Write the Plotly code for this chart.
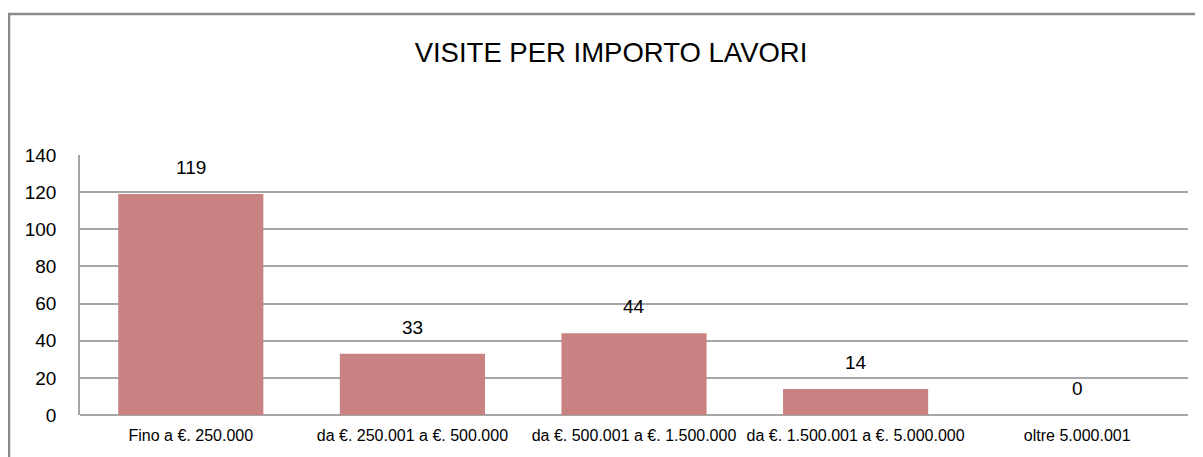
import plotly.graph_objects as go

categories = [
    "Fino a €. 250.000",
    "da €. 250.001 a €. 500.000",
    "da €. 500.001 a €. 1.500.000",
    "da €. 1.500.001 a €. 5.000.000",
    "oltre 5.000.001",
]
visite = [119, 33, 44, 14, 0]
y_ticks = [0, 20, 40, 60, 80, 100, 120, 140]

W, H = 1203, 457
OFF = 8  # page body margin offset
ML, MR, MT, MB = 80 - OFF, 15 + OFF, 155 - OFF, 42 + OFF
pw = W - ML - MR
ph = H - MT - MB

fig = go.Figure()
fig.add_trace(go.Bar(
    x=categories,
    y=visite,
    marker=dict(color="#c88282", line=dict(color="#a06565", width=0)),
    width=0.655,
    hoverinfo="x+y",
))

for c, v in zip(categories, visite):
    fig.add_annotation(
        x=c, y=v, text=str(v), showarrow=False, yanchor="bottom", yshift=14,
        font=dict(family="Liberation Sans, Arial", size=19, color="#000000"),
    )

# outer chart frame (extends beyond right/bottom edges)
def px_x(p):
    return (p - OFF - ML) / pw

def px_y(p):
    return (H - MB - (p - OFF)) / ph

fig.add_shape(
    type="rect", xref="paper", yref="paper",
    x0=px_x(9), x1=px_x(1225), y0=px_y(480), y1=px_y(14),
    line=dict(color="#8a8a8a", width=2.5), fillcolor="rgba(0,0,0,0)",
    layer="below",
)

fig.update_layout(
    width=W, height=H,
    margin=dict(l=ML, r=MR, t=MT, b=MB, autoexpand=False),
    paper_bgcolor="white", plot_bgcolor="white",
    showlegend=False,
    title=dict(
        text="VISITE PER IMPORTO LAVORI",
        x=(611 - OFF) / W, xref="container", xanchor="center",
        y=1 - (52 - OFF) / H, yref="container", yanchor="middle",
        font=dict(family="Liberation Sans Narrow, Arial Narrow, Liberation Sans", size=27.5, color="#000000"),
    ),
    bargap=0.345,
    xaxis=dict(
        showgrid=False, showline=False, ticks="", tickangle=0, automargin=False,
        ticklabelstandoff=9,
        tickfont=dict(family="Liberation Sans Narrow, Arial Narrow, Liberation Sans", size=16, color="#000000"),
        fixedrange=True,
    ),
    yaxis=dict(
        range=[0, 140], tickvals=y_ticks, ticktext=[str(t) for t in y_ticks],
        showgrid=True, gridcolor="#a6a6a6", gridwidth=1.5,
        showline=True, linecolor="#a6a6a6", linewidth=1.5,
        zeroline=True, zerolinecolor="#a6a6a6", zerolinewidth=1.5,
        ticks="", ticklen=0, automargin=False, ticklabelstandoff=18,
        tickfont=dict(family="Liberation Sans, Arial", size=19, color="#000000"),
        fixedrange=True,
    ),
)

fig.write_html("out.html")
